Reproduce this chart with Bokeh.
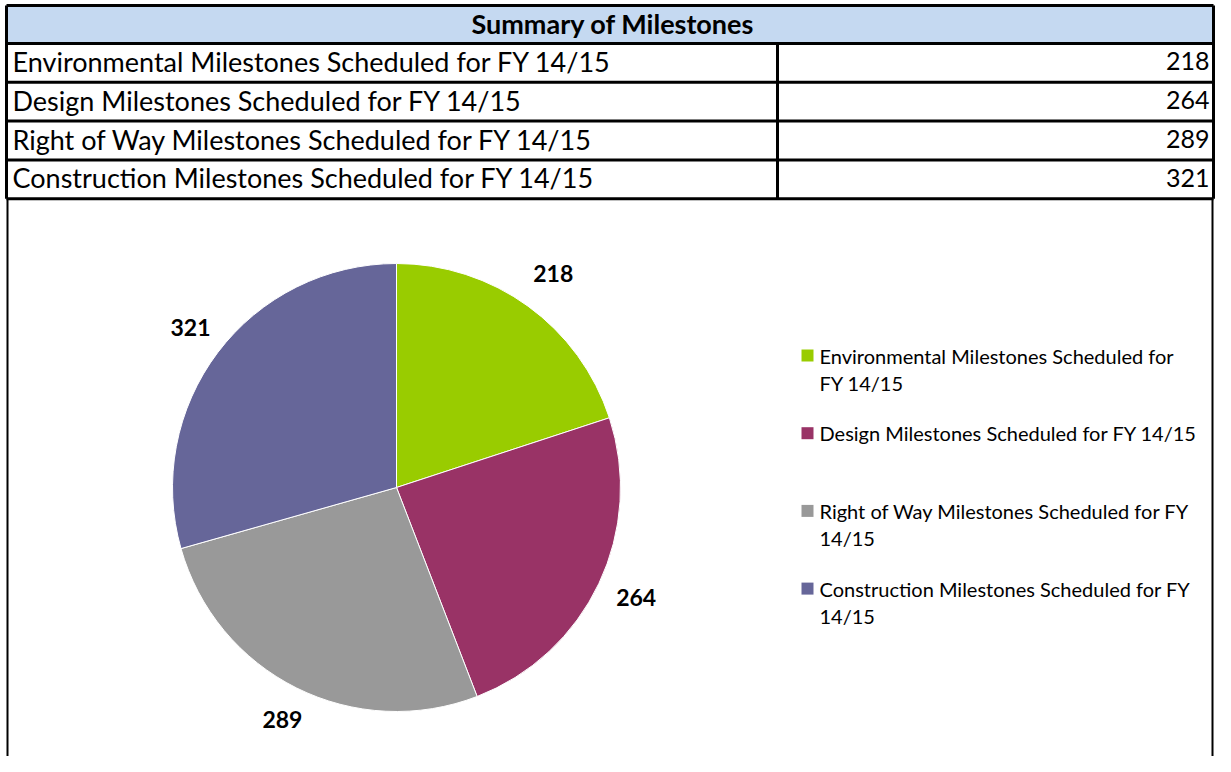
import math
import textwrap
from bokeh.plotting import figure
from bokeh.models import Range1d, ColumnDataSource
from bokeh.core.properties import value
from bokeh.embed import file_html
from bokeh.resources import INLINE

# ---------------- data ----------------
table_title = "Summary of Milestones"
categories = [
    "Environmental Milestones Scheduled for FY 14/15",
    "Design Milestones Scheduled for FY 14/15",
    "Right of Way Milestones Scheduled for FY 14/15",
    "Construction Milestones Scheduled for FY 14/15",
]
values = [218, 264, 289, 321]
colors = ["#99CC00", "#993366", "#999999", "#666699"]

# ---------------- layout (pixel space, y downwards) ----------------
FONT = "Lato"
W, H = 1215, 756

p = figure(width=W, height=H, x_range=Range1d(0, W), y_range=Range1d(-H, 0),
           output_backend="svg", toolbar_location=None, min_border=0,
           x_axis_type=None, y_axis_type=None, outline_line_color=None,
           background_fill_color="white", border_fill_color="white")
p.grid.visible = False

L, R, MID = 6, 1213, 777
TOP, HEAD_B = 5, 43
row_h = 38.8
row_tops = [HEAD_B + i * row_h for i in range(len(categories))]
TABLE_B = HEAD_B + row_h * len(categories)

# header fill
p.quad(left=[L], right=[R], top=[-TOP], bottom=[-HEAD_B], fill_color="#C5D9F1", line_color=None)
p.text(x=[(L + R) / 2 + 3], y=[-(TOP + HEAD_B) / 2 + 1.5], text=[table_title], text_font=value(FONT),
       text_font_style="bold", text_font_size="27px", text_align="center",
       text_baseline="middle", text_color="#000000")

# rows
cy_rows = [-(t + row_h / 2) + 1.5 for t in row_tops]
p.text(x=[L + 6] * len(categories), y=cy_rows, text=categories, text_font=value(FONT),
       text_font_size="27px", text_align="left", text_baseline="middle", text_color="#000000")
p.text(x=[R - 4] * len(values), y=cy_rows, text=[str(v) for v in values], text_font=value(FONT),
       text_font_size="25px", text_align="right", text_baseline="middle", text_color="#000000")

# table grid lines
hy = [TOP, HEAD_B] + [t + row_h for t in row_tops]
p.segment(x0=[L] * len(hy), x1=[R] * len(hy), y0=[-y for y in hy], y1=[-y for y in hy],
          line_color="black", line_width=3)
p.segment(x0=[L, R, MID], x1=[L, R, MID], y0=[-TOP, -TOP, -HEAD_B], y1=[-TABLE_B, -TABLE_B, -TABLE_B],
          line_color="black", line_width=3)
# chart frame below table
p.segment(x0=[L + 1, R - 1], x1=[L + 1, R - 1], y0=[-TABLE_B, -TABLE_B], y1=[-H, -H],
          line_color="black", line_width=2)

# ---------------- pie ----------------
cx, cy, rad = 396, 487, 224
total = sum(values)
cum = [0]
for v in values:
    cum.append(cum[-1] + v)
starts = [math.pi / 2 - 2 * math.pi * cum[i] / total for i in range(len(values))]
ends = [math.pi / 2 - 2 * math.pi * cum[i + 1] / total for i in range(len(values))]
src = ColumnDataSource(dict(start=starts, end=ends, color=colors))
p.wedge(x=cx, y=-cy, radius=rad, start_angle="start", end_angle="end", direction="clock",
        fill_color="color", line_color="white", line_width=1, source=src)

# data labels just outside the slices, near each slice's mid angle
lab_r = 262
mids = [2 * math.pi * (cum[i] + cum[i + 1]) / 2 / total for i in range(len(values))]
lx = [cx + lab_r * math.sin(a) + 3 for a in mids]
ly = [-cy + lab_r * math.cos(a) + 2 for a in mids]
p.text(x=lx, y=ly, text=[str(v) for v in values], text_font=value(FONT), text_font_style="bold",
       text_font_size="23px", text_align="center", text_baseline="middle", text_color="#000000")

# ---------------- legend ----------------
leg_x, leg_y0, leg_step, line_step, sq = 807, 355, 77.7, 27.5, 12
sx, sy, sc = [], [], []
tx, ty, tt = [], [], []
for i, name in enumerate(categories):
    y = leg_y0 + i * leg_step
    sx.append(leg_x); sy.append(-y); sc.append(colors[i])
    for j, line in enumerate(textwrap.wrap(name, width=40)):
        tx.append(leg_x + 12); ty.append(-(y + j * line_step)); tt.append(line)
p.rect(x=sx, y=sy, width=sq, height=sq, fill_color=sc, line_color=None)
p.text(x=tx, y=ty, text=tt, text_font=value(FONT), text_font_size="20px", text_align="left",
       text_baseline="middle", text_color="#000000")

open("out.html", "w").write(file_html(p, INLINE))
